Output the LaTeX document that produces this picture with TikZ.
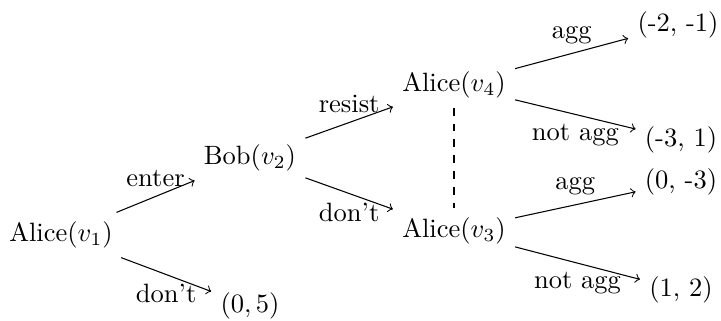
\documentclass[tikz,border=0pt]{standalone}
\begin{document}
\begin{tikzpicture}[x=0.3774pt,y=-0.3774pt,
  move/.style={->},
  lab/.style={midway}]
\useasboundingbox (0,0) rectangle (721,320);
\node (v1) at (61,235) {Alice($v_1$)};
\node (v2) at (250,158) {Bob($v_2$)};
\node (v4) at (454,85) {Alice($v_4$)};
\node (v3) at (454,231) {Alice($v_3$)};
\node (p1) at (250,306) {$(0,5)$};
\node (p2) at (678,25) {(-2, -1)};
\node (p3) at (681,140) {(-3, 1)};
\node (p4) at (681,182) {(0, -3)};
\node (p5) at (681,290) {(1, 2)};
\draw[move] (v1) -- node[lab,above] {enter} (v2);
\draw[move] (v1) -- node[lab,below] {don't} (p1);
\draw[move] (v2) -- node[lab,above] {resist} (v4);
\draw[move] (v2) -- node[lab,below] {don't} (v3);
\draw[move] (v4) -- node[lab,above] {agg} (p2);
\draw[move] (v4) -- node[lab,below] {not agg} (p3);
\draw[move] (v3) -- node[lab,above] {agg} (p4);
\draw[move] (v3) -- node[lab,below] {not agg} (p5);
\draw[dashed] (v4) -- (v3);
\end{tikzpicture}
\end{document}
